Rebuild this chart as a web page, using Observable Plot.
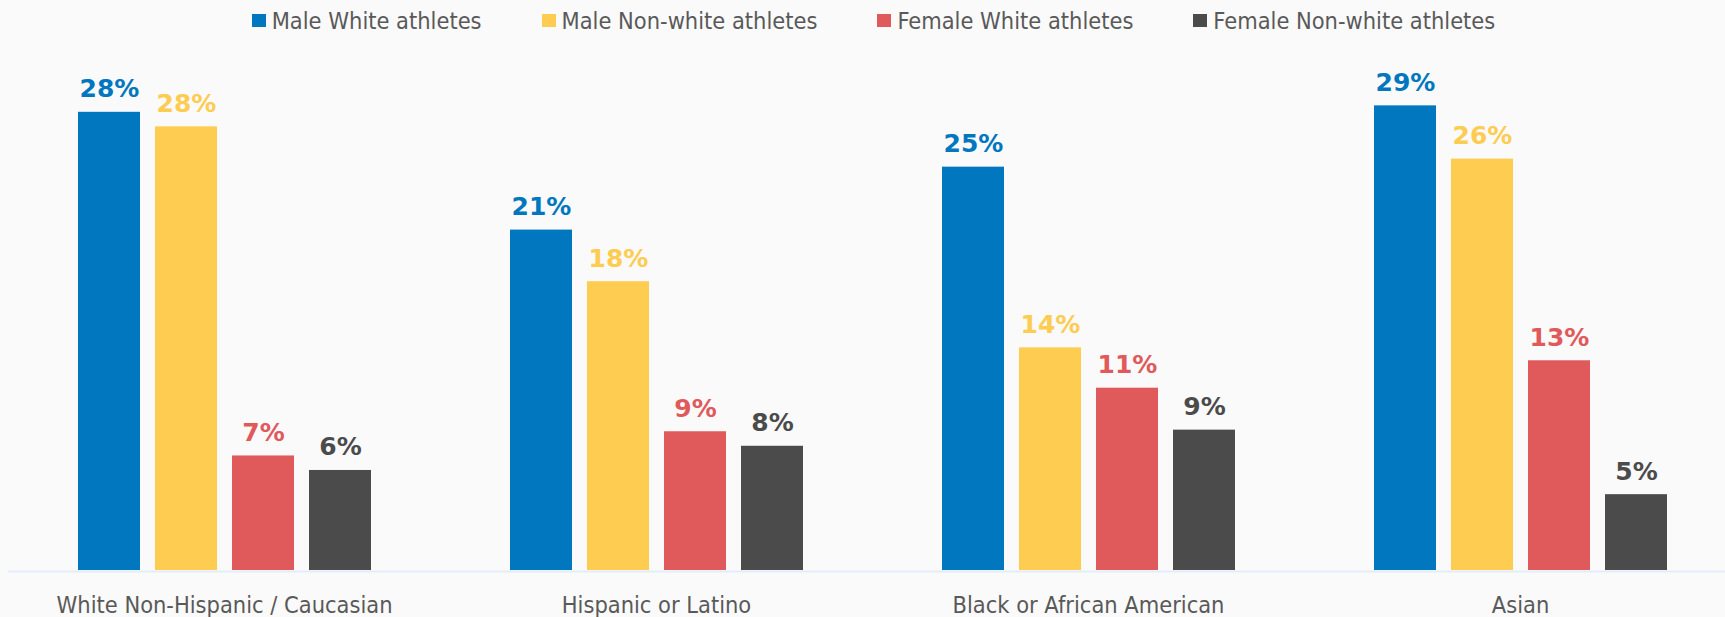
<!DOCTYPE html>
<html>
<head>
<meta charset="utf-8">
<script src="https://cdn.jsdelivr.net/npm/d3@7"></script>
<script src="https://cdn.jsdelivr.net/npm/@observablehq/plot@0.6"></script>
<style>
  html, body { margin: 0; padding: 0; background: #fafafa; }
  body { width: 1725px; height: 617px; overflow: hidden; font-family: "DejaVu Sans Condensed", "DejaVu Sans", sans-serif; font-stretch: condensed; }
  #legend { height: 42px; display: flex; justify-content: center; align-items: center; gap: 60px; padding-left: 22px; box-sizing: border-box; color: #595959; font-size: 23.4px; }
  #legend .item { display: flex; align-items: center; }
  #legend .sw { width: 14px; height: 13px; margin-right: 6px; margin-top: -2px; }
  #chart svg { display: block; }
  #chart svg g.value-labels, #chart svg g.value-labels text { font-stretch: normal; font-family: "DejaVu Sans", sans-serif; }
</style>
</head>
<body>
<div id="legend"></div>
<div id="chart"></div>
<script>
const categories = ["White Non-Hispanic / Caucasian", "Hispanic or Latino", "Black or African American", "Asian"];
const series = ["Male White athletes", "Male Non-white athletes", "Female White athletes", "Female Non-white athletes"];
const maleWhite = [28.4, 21.1, 25.0, 28.8];
const maleNonWhite = [27.5, 17.9, 13.8, 25.5];
const femaleWhite = [7.1, 8.6, 11.3, 13.0];
const femaleNonWhite = [6.2, 7.7, 8.7, 4.7];
const colors = ["#0077be", "#ffcc52", "#e05a5c", "#4b4b4b"];

const valuesBySeries = [maleWhite, maleNonWhite, femaleWhite, femaleNonWhite];
const data = [];
categories.forEach((c, i) => {
  series.forEach((s, j) => {
    data.push({category: c, series: s, value: valuesBySeries[j][i]});
  });
});

// Legend
const legend = d3.select("#legend");
series.forEach((s, j) => {
  const item = legend.append("div").attr("class", "item");
  item.append("div").attr("class", "sw").style("background", colors[j]);
  item.append("span").text(s);
});

const chart = Plot.plot({
  width: 1725,
  height: 575,
  marginTop: 44,
  marginBottom: 47,
  marginLeft: 8,
  marginRight: 0,
  style: {
    background: "#fafafa",
    fontFamily: "'DejaVu Sans Condensed', 'DejaVu Sans', sans-serif",
    fontStretch: "condensed",
    color: "#595959",
    overflow: "visible"
  },
  fx: {domain: categories, range: [7.5, 1736.5], padding: 0, label: null},
  x: {domain: series, paddingInner: 0.2, paddingOuter: 0.887, axis: null},
  y: {domain: [0, 30], axis: null},
  color: {domain: series, range: colors},
  marks: [
    Plot.ruleY([0], {stroke: "#e3ecfa", strokeWidth: 2, dy: 1}),
    Plot.barY(data, {fx: "category", x: "series", y: "value", fill: "series"}),
    Plot.text(data, {
      fx: "category", x: "series", y: "value",
      text: d => `${Math.round(d.value)}%`,
      fill: "series",
      lineAnchor: "bottom",
      dy: -15,
      fontSize: 25,
      fontWeight: "bold",
      fontFamily: "'DejaVu Sans', sans-serif",
      className: "value-labels"
    }),
    Plot.axisFx({anchor: "bottom", tickSize: 0, tickPadding: 26, fontSize: 23.4, label: null, fill: "#595959"})
  ]
});
document.getElementById("chart").appendChild(chart);
</script>
</body>
</html>
